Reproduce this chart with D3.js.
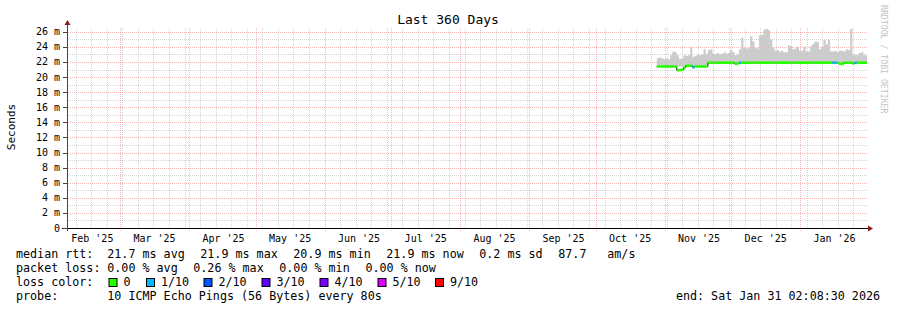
<!DOCTYPE html>
<meta charset="utf-8">
<style>
body { margin: 0; background: #fff; }
text { font-family: "DejaVu Sans Mono", monospace; fill: #000; }
</style>
<svg width="897" height="310"></svg>
<script src="https://d3js.org/d3.v7.min.js"></script>
<script>

// one value per day, starting 2025-10-28 12:00 (values in ms)
var firstDay = new Date(2025, 9, 28, 12);
var medianRtt = [
  21.4, 21.4, 21.4, 21.4, 21.4, 21.4, 21.4, 21.4, 21.4, 20.9,
  20.95, 20.95, 21.25, 21.5, 21.5, 21.5, 21.3, 21.4, 21.4, 21.4,
  21.4, 21.4, 21.4, 21.9, 21.9, 21.9, 21.9, 21.9, 21.9, 21.9,
  21.9, 21.9, 21.9, 21.9, 21.9, 21.75, 21.8, 21.9, 21.9, 21.9,
  21.9, 21.9, 21.9, 21.9, 21.9, 21.9, 21.9, 21.9, 21.9, 21.9,
  21.9, 21.9, 21.9, 21.9, 21.9, 21.9, 21.9, 21.9, 21.9, 21.9,
  21.9, 21.9, 21.9, 21.9, 21.9, 21.9, 21.9, 21.9, 21.9, 21.9,
  21.9, 21.9, 21.9, 21.9, 21.9, 21.9, 21.9, 21.9, 21.9, 21.9,
  21.9, 21.9, 21.75, 21.75, 21.9, 21.9, 21.9, 21.9, 21.8, 21.9,
  21.9, 21.9, 21.9, 21.9, 21.9
];
var smokeTop = [
  22.5, 22.6, 22.5, 22.35, 22.5, 22.35, 22.9, 23.4, 23.3, 22.9,
  22.4, 22.5, 22.9, 22.8, 22.9, 24.0, 22.7, 22.8, 23.0, 22.9,
  23.0, 23.7, 23.1, 23.6, 23.7, 23.1, 23.0, 23.2, 23.0, 23.1,
  23.3, 23.1, 23.2, 23.6, 23.3, 22.9, 23.0, 23.7, 25.2, 23.85,
  23.8, 23.9, 25.4, 24.7, 23.85, 23.8, 25.5, 25.6, 26.3, 26.4,
  26.2, 25.0, 23.9, 23.5, 23.6, 23.4, 23.5, 23.3, 23.3, 24.2,
  24.1, 23.7, 23.8, 24.0, 23.5, 23.5, 24.0, 23.4, 23.4, 24.1,
  24.4, 24.7, 24.6, 23.7, 24.0, 24.9, 24.3, 24.9, 23.4, 23.4,
  23.5, 23.3, 23.5, 23.5, 23.4, 23.7, 23.6, 26.4, 22.9, 23.0,
  22.9, 23.2, 23.3, 22.9, 22.9
];
var smokeLow = [
  21.4, 21.4, 21.4, 21.4, 21.4, 21.4, 21.4, 21.4, 21.4, 21.4,
  21.4, 21.4, 21.4, 21.5, 21.5, 21.5, 21.4, 21.4, 21.4, 21.4,
  21.4, 21.4, 21.4, 21.9, 21.9, 21.9, 21.9, 21.9, 21.9, 21.9,
  21.9, 21.9, 21.9, 21.9, 21.9, 21.8, 21.8, 21.9, 21.9, 21.9,
  21.9, 21.9, 21.9, 21.9, 21.9, 21.9, 21.9, 21.9, 21.9, 21.9,
  21.9, 21.9, 21.9, 21.9, 21.9, 21.9, 21.9, 21.9, 21.9, 21.9,
  21.9, 21.9, 21.9, 21.9, 21.9, 21.9, 21.9, 21.9, 21.9, 21.9,
  21.9, 21.9, 21.9, 21.9, 21.9, 21.9, 21.9, 21.9, 21.9, 21.9,
  21.9, 21.9, 21.8, 21.8, 21.9, 21.9, 21.9, 21.9, 21.8, 21.9,
  21.9, 21.9, 21.9, 21.9, 21.9
];
// index into lossColors
var lossLevel = [
  0, 0, 0, 0, 0, 0, 0, 0, 0, 0,
  0, 0, 0, 0, 0, 0, 1, 0, 0, 0,
  0, 0, 0, 0, 0, 0, 0, 0, 0, 0,
  0, 0, 0, 0, 0, 0, 0, 1, 0, 0,
  0, 0, 0, 0, 0, 0, 0, 0, 0, 0,
  0, 0, 0, 0, 0, 0, 0, 0, 0, 0,
  0, 0, 0, 0, 0, 0, 0, 0, 0, 0,
  0, 0, 0, 0, 0, 0, 0, 0, 0, 1,
  1, 0, 0, 0, 0, 0, 0, 0, 0, 1,
  0, 0, 0, 0, 0
];

var lossLabels = ["0", "1/10", "2/10", "3/10", "4/10", "5/10", "9/10"];
var lossColors = ["#26ff00", "#00b8ff", "#0059ff", "#5e00ff", "#7e00ff", "#dd00ff", "#ff0000"];
var yTicks = [0, 2, 4, 6, 8, 10, 12, 14, 16, 18, 20, 22, 24, 26];

var rttStats = ["21.7 ms avg", "21.9 ms max", "20.9 ms min", "21.9 ms now", "0.2 ms sd", "87.7", "am/s"];
var lossStats = ["0.00 % avg", "0.26 % max", "0.00 % min", "0.00 % now"];

var endTime = new Date(2026, 0, 31, 2, 8, 30),
    startTime = new Date(endTime.getTime() - 360 * 864e5);

var svg = d3.select("svg"),
    plotLeft = 67, plotTop = 28, plotW = 800, plotH = 200;

var x = d3.scaleTime().domain([startTime, endTime]).range([plotLeft, plotLeft + plotW]),
    y = d3.scaleLinear().domain([0, 26.5]).range([plotTop + plotH, plotTop]);

var data = medianRtt.map(function(m, i) {
  return { date: d3.timeDay.offset(firstDay, i), median: m, top: smokeTop[i], low: smokeLow[i], loss: lossLevel[i] };
});
var last = data[data.length - 1];
var stepData = data.concat([{ date: endTime, median: last.median, top: last.top, low: last.low, loss: last.loss }]);

// dotted patterns for the grid (1px on, 1px off)
var majorCol = "rgba(235,60,60,0.36)",
    minorCol = "rgba(150,150,150,0.38)";
var defs = svg.append("defs");
[["vMaj", 1, 2, majorCol], ["vMin", 1, 2, minorCol], ["hMaj", 2, 1, majorCol], ["hMin", 2, 1, minorCol]].forEach(function(p) {
  defs.append("pattern")
      .attr("id", p[0]).attr("patternUnits", "userSpaceOnUse")
      .attr("width", p[1]).attr("height", p[2])
    .append("rect").attr("width", 1).attr("height", 1).attr("fill", p[3]);
});

// grid
var grid = svg.append("g").attr("shape-rendering", "crispEdges");
d3.range(1, 27).forEach(function(v) {
  var major = v % 2 === 0;
  grid.append("rect")
      .attr("x", major ? plotLeft - 4 : plotLeft).attr("width", major ? plotW + 4 : plotW)
      .attr("y", Math.round(y(v))).attr("height", 1)
      .attr("fill", major ? "url(#hMaj)" : "url(#hMin)");
});
var monthPx = d3.timeMonth.range(startTime, endTime).map(function(t) { return Math.round(x(t)); });
d3.timeSunday.range(startTime, endTime).forEach(function(t) {
  var px = Math.round(x(t));
  if (monthPx.indexOf(px) >= 0) return;
  grid.append("rect")
      .attr("x", px).attr("width", 1)
      .attr("y", plotTop).attr("height", plotH + 2)
      .attr("fill", "url(#vMin)");
});
monthPx.forEach(function(px) {
  grid.append("rect")
      .attr("x", px).attr("width", 1)
      .attr("y", plotTop).attr("height", plotH + 3)
      .attr("fill", "url(#vMaj)");
});

// smoke
svg.append("path")
    .datum(stepData)
    .attr("fill", "#c8c8c8")
    .attr("fill-opacity", 0.92)
    .attr("d", d3.area().curve(d3.curveStepAfter)
      .x(function(d) { return x(d.date); })
      .y0(function(d) { return y(d.low); })
      .y1(function(d) { return y(d.top); }));

// thin black median underneath, shows at the steps
svg.append("path")
    .datum(stepData)
    .attr("fill", "none")
    .attr("stroke", "#000")
    .attr("stroke-width", 1)
    .attr("d", d3.line().curve(d3.curveStepAfter)
      .x(function(d) { return x(d.date); })
      .y(function(d) { return y(d.median); }));

// loss coloured median
svg.append("g").selectAll("line")
  .data(data)
  .enter().append("line")
    .attr("x1", function(d) { return x(d.date); })
    .attr("x2", function(d, i) { return x(stepData[i + 1].date); })
    .attr("y1", function(d) { return y(d.median); })
    .attr("y2", function(d) { return y(d.median); })
    .attr("stroke", function(d) { return lossColors[d.loss]; })
    .attr("stroke-width", 2.6);

// axes
var axis = svg.append("g").attr("shape-rendering", "crispEdges");
axis.append("line")
    .attr("x1", plotLeft - 5).attr("x2", plotLeft + plotW + 2)
    .attr("y1", plotTop + plotH + 0.5).attr("y2", plotTop + plotH + 0.5)
    .attr("stroke", "#000");
axis.append("line")
    .attr("x1", plotLeft + 0.5).attr("x2", plotLeft + 0.5)
    .attr("y1", plotTop + plotH + 3).attr("y2", plotTop - 4)
    .attr("stroke", "#444");
yTicks.forEach(function(v) {
  axis.append("line")
      .attr("x1", plotLeft - 4).attr("x2", plotLeft)
      .attr("y1", Math.round(y(v)) + 0.5).attr("y2", Math.round(y(v)) + 0.5)
      .attr("stroke", "#444");
});
svg.append("path")
    .attr("d", "M" + (plotLeft - 2.5) + "," + (plotTop - 3) + "L" + (plotLeft + 3.5) + "," + (plotTop - 3) + "L" + (plotLeft + 0.5) + "," + (plotTop - 8) + "Z")
    .attr("fill", "#8b1a1a");
svg.append("path")
    .attr("d", "M" + (plotLeft + plotW + 1) + "," + (plotTop + plotH - 2.5) + "L" + (plotLeft + plotW + 1) + "," + (plotTop + plotH + 3.5) + "L" + (plotLeft + plotW + 6) + "," + (plotTop + plotH + 0.5) + "Z")
    .attr("fill", "#8b1a1a");

// tick labels
svg.append("g").selectAll("text")
  .data(yTicks)
  .enter().append("text")
    .attr("x", 60)
    .attr("y", function(d) { return y(d); })
    .attr("dy", "0.35em")
    .attr("text-anchor", "end")
    .style("font-size", "10px")
    .text(function(d) { return d === 0 ? "0" : d + " m"; });

var fmt = d3.timeFormat("%b '%y");
svg.append("g").selectAll("text")
  .data(d3.timeMonth.range(d3.timeMonth.floor(startTime), endTime))
  .enter().append("text")
    .attr("x", function(d) { return x(new Date(d.getTime() + 15.5 * 864e5)); })
    .attr("y", 242)
    .attr("text-anchor", "middle")
    .style("font-size", "10px")
    .text(function(d) { return fmt(d); });

// titles
svg.append("text")
    .attr("x", 448).attr("y", 24)
    .attr("text-anchor", "middle")
    .style("font-size", "13px")
    .text("Last 360 Days");

svg.append("text")
    .attr("transform", "translate(15,127) rotate(-90)")
    .attr("text-anchor", "middle")
    .style("font-size", "11px")
    .text("Seconds");

svg.append("text")
    .attr("transform", "translate(884,5) rotate(90)")
    .attr("dy", "0.35em")
    .style("font-size", "8.2px")
    .style("fill", "#c4c4c4")
    .text("RRDTOOL / TOBI OETIKER");

// legend
var leg = svg.append("g").style("font-size", "11.7px").style("white-space", "pre");
var rowY = [258, 272, 286, 300];
leg.append("text").attr("x", 16).attr("y", rowY[0]).text("median rtt:");
[107.3, 200.3, 293.3, 386.3, 479.3, 558.3, 607.3].forEach(function(px, i) {
  leg.append("text").attr("x", px).attr("y", rowY[0]).text(rttStats[i]);
});
leg.append("text").attr("x", 16).attr("y", rowY[1]).text("packet loss:");
[107.3, 193.3, 279.3, 365.5].forEach(function(px, i) {
  leg.append("text").attr("x", px).attr("y", rowY[1]).text(lossStats[i]);
});
leg.append("text").attr("x", 16).attr("y", rowY[2]).text("loss color:");
var swatchX = [108.5, 146, 203.5, 261.5, 319.5, 377.5, 435];
lossLabels.forEach(function(l, i) {
  leg.append("rect")
      .attr("x", swatchX[i] + 0.5).attr("y", 278.5)
      .attr("width", 8).attr("height", 8)
      .attr("fill", lossColors[i])
      .attr("stroke", "#000");
  leg.append("text").attr("x", swatchX[i] + 15).attr("y", rowY[2]).text(l);
});
leg.append("text").attr("x", 16).attr("y", rowY[3]).text("probe:");
leg.append("text").attr("x", 107.3).attr("y", rowY[3]).text("10 ICMP Echo Pings (56 Bytes) every 80s");
leg.append("text").attr("x", 880).attr("y", rowY[3]).attr("text-anchor", "end").text("end: Sat Jan 31 02:08:30 2026");

</script>
